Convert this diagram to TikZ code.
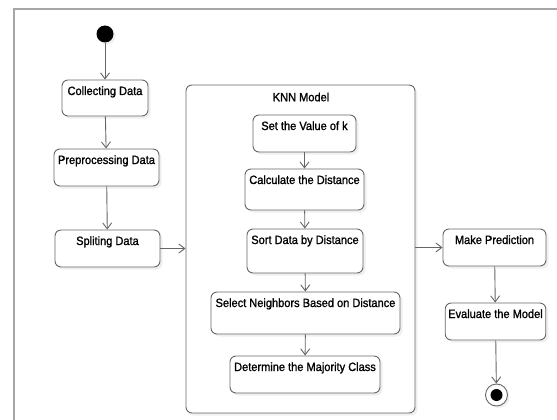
\documentclass[tikz,border=0pt]{standalone}
\usepackage{fontspec}
\newfontfamily\diagfont{Liberation Sans}[FakeBold=1.2,FakeStretch=0.92]
\usetikzlibrary{arrows.meta,positioning,shadows}
\definecolor{linegray}{HTML}{666666}
\definecolor{framegray}{HTML}{A6A6A6}

\begin{document}
\begin{tikzpicture}[x=1pt,y=-1pt,font=\diagfont\fontsize{12}{14}\selectfont,
  activity/.style={draw=linegray,line width=0.9pt,rounded corners=6pt,fill=white,
    drop shadow={shadow xshift=2.5pt,shadow yshift=-2.5pt,fill=black!12},
    inner xsep=3pt,inner ysep=5pt,text height=10pt,text depth=17pt},
  flow/.style={draw=linegray,line width=0.9pt,-{Straight Barb[length=6pt,width=9pt]}},
  dot/.style={circle,fill=black,inner sep=0pt}]
\path[use as bounding box] (0,0) rectangle (557,420);
% outer frame
\draw[framegray,line width=1.5pt] (14,9) rectangle (580,440);

% left column
\node[dot,minimum size=17pt,drop shadow={shadow xshift=2pt,shadow yshift=-2pt,fill=black!12}] (start) at (105,34) {};
\node[activity,minimum width=86pt,text depth=16pt] (collect) at (105,98) {Collecting Data};
\node[activity,minimum width=105pt] (prep) at (106.5,167.5) {Preprocessing Data};
\node[activity,minimum width=105pt] (split) at (107.5,248.5) {Spliting Data};

% KNN model
\node[activity,minimum width=229pt,minimum height=328pt,text depth=0pt,text height=0pt] (knn) at (300.5,249) {};
\node (knntitle) at (301,97) {KNN Model};
\node[activity,minimum width=103pt] (setk) at (304.5,133.5) {Set the Value of k};
\node[activity,minimum width=119pt,text depth=21pt] (calc) at (304.5,189.5) {Calculate the Distance};
\node[activity,minimum width=116pt,text depth=24pt] (sort) at (305,251) {Sort Data by Distance};
\node[activity,minimum width=189pt,text depth=22pt] (select) at (305.5,313) {Select Neighbors Based on Distance};
\node[activity,minimum width=150pt] (major) at (305,374.5) {Determine the Majority Class};

% right column
\node[activity,minimum width=103pt] (predict) at (494.5,247.5) {Make Prediction};
\node[activity,minimum width=99pt] (evaluate) at (495.5,321.5) {Evaluate the Model};
\node[circle,draw=linegray,line width=0.9pt,fill=white,minimum size=22pt,inner sep=0pt,
  drop shadow={shadow xshift=2pt,shadow yshift=-2pt,fill=black!12}] (finish) at (496.5,395) {};
\node[dot,minimum size=12pt] (finishdot) at (finish.center) {};

% flows
\draw[flow] (start) -- (collect);
\draw[flow] (collect) -- (prep);
\draw[flow] (prep) -- (split);
\draw[flow] (split.east) -- (split.east -| knn.west);
\draw[flow] (setk) -- (calc);
\draw[flow] (calc) -- (sort);
\draw[flow] (sort) -- (select);
\draw[flow] (select) -- (major);
\draw[flow] (knn.east |- predict.west) -- (predict.west);
\draw[flow] (predict) -- (evaluate);
\draw[flow] (evaluate) -- (finish);
\end{tikzpicture}
\end{document}
